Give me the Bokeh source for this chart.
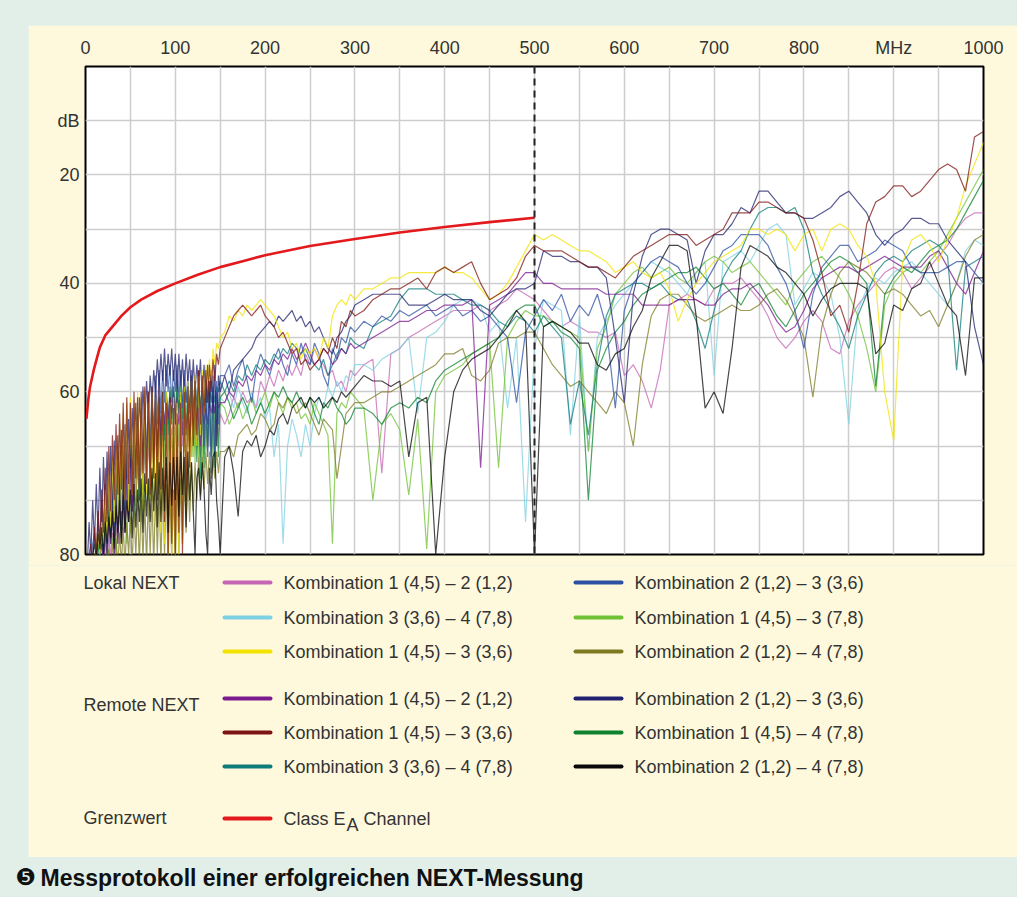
from bokeh.plotting import figure
from bokeh.layouts import column
from bokeh.models import FixedTicker, Span, Label, BoxAnnotation, Range1d, Plot
from bokeh.embed import file_html
from bokeh.resources import INLINE

# ---------------- data ----------------
FREQ_LO = list(range(2, 151, 2))        # MHz, dense sampling of the noisy low band
FREQ_MID = list(range(155, 301, 5))     # MHz
FREQ_HI = list(range(310, 1001, 10))    # MHz

X_TICKS = [0, 100, 200, 300, 400, 500, 600, 700, 800, 900, 1000]
X_LABELS = {900: "MHz"}
Y_TICKS = [10, 20, 40, 60, 90]
Y_LABELS = {10: "dB", 90: "80"}
LIMIT_MARK_MHZ = 500

LIMIT_F = [1, 3, 5, 9, 13, 16, 22, 31, 40, 50, 62, 80, 100, 125, 150, 175, 200, 250, 300, 350, 400, 450, 500]
LIMIT_DB = [65.0, 61.6, 59.1, 56.1, 53.6, 51.8, 49.6, 47.8, 46.0, 44.4, 43.0, 41.4, 40.0, 38.4, 37.0,
            35.9, 34.8, 33.1, 31.8, 30.6, 29.6, 28.7, 27.9]

# --- Lokal NEXT ---
L_K1_K2_LO = [92, 92, 92, 92, 92, 92, 92, 92, 92, 90,
              88, 92, 87, 90, 86, 90, 85, 88, 82, 88,
              80, 86, 78, 84, 77, 82, 76, 80, 74, 80,
              72, 78, 71, 76, 70, 75, 69, 74, 68, 72,
              67, 72, 66, 70, 65, 70, 64, 68, 65, 68,
              65, 70, 64, 70, 63, 68, 64, 69, 64, 70,
              65, 70, 66, 72, 65, 70, 66, 71, 65, 70,
              66, 72, 65, 68, 64]
L_K1_K2_MID = [66, 64, 61, 63, 60, 62, 61, 63, 58, 60,
               57, 59, 56, 58, 55, 57, 55, 57, 53, 55,
               52, 54, 55, 57, 56, 59, 58, 60, 56, 57]
L_K1_K2_HI = [55, 54, 75, 53, 52,
              50, 49, 48, 47, 46, 45, 45, 45, 44, 45,
              44, 43, 41, 42, 43, 45, 47, 48, 47, 48,
              49, 49, 50, 49, 57, 55, 58, 63, 56, 44,
              43, 42, 43, 44, 41, 40, 40, 39, 41, 43,
              46, 50, 52, 50, 47, 45, 47, 52, 53, 47,
              44, 42, 40, 38, 37, 38, 41, 39, 37, 35,
              33, 30, 28, 27, 27]
L_K3_K4_LO = [92, 92, 92, 92, 92, 90, 92, 90, 88, 90,
              86, 90, 84, 88, 82, 88, 80, 86, 78, 86,
              75, 84, 74, 82, 72, 80, 70, 79, 68, 78,
              67, 76, 66, 74, 65, 73, 64, 72, 64, 71,
              63, 70, 62, 68, 62, 67, 61, 66, 60, 65,
              60, 64, 60, 65, 59, 64, 60, 63, 59, 63,
              60, 64, 59, 62, 60, 63, 59, 64, 60, 62,
              60, 64, 60, 62, 61]
L_K3_K4_MID = [62, 60, 63, 59, 62, 64, 60, 63, 61, 65,
               63, 72, 66, 88, 70, 65, 68, 72, 66, 70,
               64, 61, 63, 59, 61, 58, 60, 57, 58, 55]
L_K3_K4_HI = [55, 56, 54, 53, 52,
              50, 64, 50, 49, 47, 44, 43, 43, 44, 49,
              47, 63, 50, 84, 52, 43, 44, 45, 68, 46,
              71, 50, 47, 44, 42, 40, 38, 36, 37, 38,
              40, 42, 38, 36, 57, 36, 35, 34, 36, 33,
              30, 29, 31, 44, 41, 38, 39, 42, 50, 66,
              45, 41, 39, 40, 38, 37, 36, 38, 40, 42,
              44, 40, 34, 32, 33]
L_K1_K3_36_LO = [92, 92, 92, 90, 92, 88, 86, 90, 84, 88,
                 78, 87, 75, 85, 72, 84, 70, 83, 66, 82,
                 64, 80, 62, 82, 61, 79, 62, 81, 60, 78,
                 61, 82, 60, 79, 62, 80, 60, 84, 61, 82,
                 62, 86, 61, 88, 60, 90, 62, 90, 61, 90,
                 62, 90, 60, 88, 59, 82, 58, 78, 58, 72,
                 57, 70, 57, 68, 56, 64, 55, 60, 54, 58,
                 52, 55, 51, 52, 50]
L_K1_K3_36_MID = [49, 46, 47, 45, 46, 44, 45, 44, 43, 44,
                  45, 46, 48, 50, 49, 52, 51, 54, 52, 53,
                  52, 54, 50, 52, 46, 44, 43, 44, 42, 43]
L_K1_K3_36_HI = [41, 41, 40, 39, 39,
                 38, 38, 38, 38, 37, 38, 38, 39, 41, 43,
                 42, 40, 37, 34, 31, 32, 31, 32, 33, 34,
                 34, 35, 36, 38, 37, 36, 38, 39, 38, 41,
                 47, 43, 40, 38, 36, 35, 34, 33, 30, 30,
                 31, 30, 31, 34, 31, 30, 34, 30, 29, 30,
                 33, 35, 40, 60, 69, 36, 32, 31, 33, 36,
                 32, 28, 22, 18, 14]
L_K2_K3_LO = [92, 92, 92, 88, 86, 90, 84, 88, 80, 90,
              77, 88, 76, 86, 74, 85, 73, 84, 71, 83,
              70, 82, 69, 80, 67, 78, 66, 76, 64, 75,
              63, 74, 62, 72, 60, 70, 59, 68, 57, 66,
              56, 64, 56, 62, 55, 60, 55, 62, 56, 60,
              55, 61, 56, 63, 56, 62, 57, 64, 56, 65,
              57, 66, 56, 68, 57, 70, 58, 72, 58, 75,
              57, 72, 58, 66, 57]
L_K2_K3_MID = [57, 55, 59, 56, 54, 58, 62, 56, 53, 55,
               57, 54, 52, 55, 57, 53, 55, 51, 54, 55,
               51, 53, 57, 59, 52, 54, 50, 51, 48, 49]
L_K2_K3_HI = [47, 48, 46, 47, 45,
              46, 45, 44, 46, 45, 44, 46, 45, 47, 46,
              48, 50, 62, 49, 46, 43, 45, 42, 47, 44,
              46, 42, 48, 63, 45, 40, 38, 36, 35, 36,
              37, 40, 42, 40, 37, 34, 33, 31, 31, 31,
              33, 37, 40, 45, 52, 42, 37, 35, 33, 33,
              36, 35, 34, 32, 33, 34, 37, 38, 38, 38,
              37, 36, 36, 38, 40]
L_K1_K3_78_LO = [92, 92, 92, 92, 92, 92, 92, 92, 92, 90,
                 92, 88, 90, 86, 88, 85, 90, 84, 88, 82,
                 86, 80, 88, 79, 86, 78, 84, 77, 82, 76,
                 84, 75, 82, 74, 80, 73, 80, 71, 78, 70,
                 79, 70, 77, 69, 76, 68, 75, 67, 74, 66,
                 73, 65, 72, 65, 71, 64, 70, 63, 72, 62,
                 73, 63, 72, 62, 74, 63, 71, 62, 70, 64,
                 72, 63, 70, 64, 62]
L_K1_K3_78_MID = [63, 66, 64, 62, 65, 63, 61, 64, 62, 60,
                  63, 60, 62, 64, 61, 63, 62, 65, 64, 66,
                  62, 64, 66, 68, 88, 64, 62, 63, 60, 61]
L_K1_K3_78_HI = [63, 80, 66, 64, 67,
                 79, 65, 89, 60, 57, 56, 55, 53, 52, 51,
                 74, 50, 47, 45, 46, 46, 47, 48, 49, 50,
                 71, 52, 48, 42, 40, 38, 37, 39, 38, 37,
                 39, 40, 38, 36, 35, 36, 38, 37, 36, 38,
                 40, 42, 44, 40, 38, 36, 35, 37, 39, 42,
                 46, 52, 60, 44, 40, 38, 37, 38, 36, 34,
                 31, 28, 25, 22, 19]
L_K2_K4_LO = [92, 92, 92, 92, 92, 92, 92, 92, 92, 92,
              90, 92, 89, 92, 88, 92, 87, 92, 86, 92,
              85, 92, 84, 90, 83, 92, 82, 90, 81, 92,
              80, 91, 80, 92, 79, 90, 79, 92, 78, 90,
              78, 92, 77, 90, 77, 92, 78, 91, 78, 92,
              76, 90, 76, 88, 75, 86, 74, 84, 73, 82,
              73, 80, 72, 79, 72, 78, 71, 77, 71, 76,
              72, 76, 71, 75, 71]
L_K2_K4_MID = [71, 70, 72, 68, 67, 66, 68, 67, 64, 65,
               67, 66, 62, 63, 61, 62, 64, 63, 62, 64,
               66, 68, 65, 66, 67, 76, 70, 64, 63, 62]
L_K2_K4_HI = [62, 61, 60, 60, 59,
              58, 57, 56, 55, 53, 53, 52, 57, 58, 56,
              51, 50, 50, 49, 49, 52, 55, 57, 59, 58,
              60, 62, 64, 60, 62, 70, 55, 46, 43, 42,
              42, 44, 46, 47, 46, 45, 44, 45, 45, 44,
              42, 41, 43, 46, 50, 61, 48, 42, 38, 36,
              37, 38, 40, 42, 41, 42, 44, 46, 45, 48,
              44, 40, 35, 32, 31]

# --- Remote NEXT ---
R_K1_K2_LO = [92, 92, 92, 92, 92, 92, 92, 90, 88, 92,
              86, 90, 84, 88, 82, 90, 80, 88, 78, 87,
              76, 86, 74, 84, 72, 82, 71, 80, 69, 78,
              68, 76, 66, 74, 65, 72, 64, 71, 63, 70,
              62, 68, 62, 66, 61, 65, 61, 64, 60, 66,
              61, 66, 62, 68, 61, 67, 63, 68, 62, 66,
              62, 69, 63, 70, 62, 66, 63, 66, 62, 64,
              61, 64, 60, 63, 62]
R_K1_K2_MID = [62, 60, 61, 58, 59, 57, 58, 56, 57, 55,
               56, 54, 55, 53, 54, 52, 54, 53, 51, 53,
               55, 54, 52, 53, 55, 54, 52, 53, 51, 52]
R_K1_K2_HI = [51, 50, 49, 48, 47,
              47, 46, 45, 45, 44, 44, 44, 43, 74, 44,
              43, 42, 40, 38, 38, 40, 40, 41, 41, 41,
              41, 41, 42, 42, 42, 42, 44, 44, 44, 44,
              43, 43, 43, 44, 44, 42, 41, 41, 40, 42,
              44, 47, 49, 48, 45, 41, 39, 38, 37, 37,
              38, 37, 36, 35, 36, 37, 37, 37, 35, 34,
              37, 40, 42, 38, 34]
R_K1_K3_36_LO = [92, 90, 88, 92, 85, 90, 82, 88, 78, 86,
                 74, 84, 70, 82, 68, 80, 66, 79, 64, 78,
                 62, 80, 61, 77, 62, 79, 60, 76, 61, 78,
                 60, 75, 59, 77, 60, 79, 59, 76, 60, 80,
                 59, 78, 60, 84, 62, 90, 61, 88, 63, 90,
                 64, 86, 62, 90, 60, 80, 59, 74, 57, 70,
                 58, 68, 56, 66, 57, 64, 56, 62, 55, 60,
                 54, 58, 53, 55, 52]
R_K1_K3_36_MID = [50, 48, 46, 45, 44, 45, 46, 45, 44, 46,
                  47, 48, 50, 49, 51, 53, 52, 55, 54, 56,
                  55, 54, 52, 53, 50, 52, 47, 48, 45, 46]
R_K1_K3_36_HI = [45, 43, 42, 41, 41,
                 40, 39, 41, 38, 37, 38, 37, 36, 40, 43,
                 42, 41, 39, 35, 33, 34, 34, 34, 35, 36,
                 37, 37, 38, 39, 37, 35, 34, 33, 32, 31,
                 31, 31, 33, 32, 31, 30, 27, 27, 27, 25,
                 25, 26, 27, 27, 28, 32, 38, 46, 44, 49,
                 40, 29, 25, 24, 22, 22, 24, 23, 21, 19,
                 18, 19, 23, 13, 12]
R_K3_K4_LO = [92, 92, 92, 92, 90, 92, 88, 90, 86, 90,
              83, 88, 80, 88, 77, 86, 75, 86, 73, 86,
              71, 84, 71, 83, 70, 82, 69, 81, 68, 80,
              67, 78, 66, 76, 65, 74, 64, 73, 63, 72,
              62, 70, 61, 68, 60, 66, 60, 65, 59, 64,
              60, 63, 60, 62, 59, 62, 59, 63, 58, 63,
              58, 62, 59, 63, 59, 63, 58, 62, 58, 62,
              59, 62, 59, 60, 58]
R_K3_K4_MID = [60, 58, 60, 57, 58, 55, 57, 55, 56, 54,
               55, 53, 54, 52, 53, 51, 52, 53, 52, 54,
               55, 56, 54, 57, 55, 53, 52, 53, 50, 51]
R_K3_K4_HI = [52, 48, 47, 46, 43,
              41, 41, 41, 42, 42, 42, 43, 44, 44, 45,
              47, 48, 46, 47, 49, 46, 48, 50, 66, 58,
              68, 55, 46, 42, 41, 40, 40, 41, 40, 42,
              43, 43, 47, 52, 45, 39, 36, 34, 30, 27,
              26, 26, 27, 26, 30, 38, 42, 45, 48, 52,
              46, 42, 38, 36, 35, 36, 34, 33, 32, 33,
              35, 56, 37, 36, 35]
R_K2_K3_LO = [92, 84, 90, 80, 88, 77, 86, 74, 85, 72,
              84, 71, 83, 70, 82, 69, 81, 68, 80, 67,
              79, 66, 76, 65, 74, 63, 72, 62, 70, 61,
              68, 59, 66, 58, 64, 57, 62, 56, 60, 54,
              59, 53, 58, 52, 59, 53, 57, 52, 58, 53,
              60, 53, 59, 54, 60, 53, 58, 54, 61, 54,
              60, 55, 59, 54, 61, 55, 62, 55, 63, 56,
              64, 55, 70, 57, 60]
R_K2_K3_MID = [57, 60, 56, 55, 54, 53, 52, 50, 49, 48,
               47, 48, 46, 47, 46, 45, 47, 46, 48, 47,
               49, 48, 50, 52, 53, 50, 49, 47, 46, 44]
R_K2_K3_HI = [43, 42, 42, 42, 42,
              44, 44, 44, 43, 42, 43, 43, 43, 45, 46,
              44, 42, 41, 41, 40, 34, 35, 35, 36, 36,
              37, 37, 39, 50, 62, 42, 35, 31, 30, 30,
              31, 32, 40, 34, 31, 31, 29, 26, 27, 23,
              23, 25, 27, 27, 28, 28, 27, 26, 24, 23,
              25, 27, 31, 33, 31, 30, 28, 28, 29, 29,
              32, 34, 36, 48, 55]
R_K1_K4_LO = [92, 92, 92, 92, 92, 90, 88, 92, 87, 90,
              84, 90, 82, 88, 80, 88, 78, 87, 76, 86,
              74, 85, 72, 84, 70, 82, 69, 80, 68, 80,
              66, 78, 65, 77, 64, 76, 63, 74, 62, 72,
              61, 70, 60, 69, 60, 68, 59, 66, 59, 66,
              58, 64, 59, 65, 59, 68, 60, 70, 60, 72,
              60, 73, 61, 76, 60, 74, 61, 70, 60, 72,
              61, 74, 60, 72, 61]
R_K1_K4_MID = [60, 62, 65, 63, 61, 63, 66, 64, 62, 64,
               62, 60, 61, 59, 61, 62, 60, 62, 63, 61,
               64, 66, 62, 63, 61, 63, 64, 66, 65, 63]
R_K1_K4_HI = [63, 64, 66, 63, 62,
              63, 61, 62, 58, 56, 55, 54, 53, 52, 51,
              50, 47, 45, 44, 44, 48, 47, 49, 50, 52,
              80, 56, 52, 49, 47, 44, 42, 41, 40, 39,
              38, 38, 37, 39, 41, 40, 42, 44, 41, 40,
              43, 46, 48, 45, 42, 40, 38, 36, 35, 36,
              38, 40, 59, 42, 39, 37, 38, 36, 34, 33,
              32, 30, 27, 24, 21]
R_K2_K4_LO = [92, 92, 92, 90, 88, 91, 86, 89, 85, 90,
              84, 88, 83, 87, 82, 89, 81, 86, 80, 88,
              79, 86, 80, 84, 78, 87, 77, 85, 78, 84,
              76, 86, 75, 83, 76, 84, 74, 82, 75, 85,
              73, 84, 74, 82, 72, 86, 73, 81, 72, 80,
              72, 83, 71, 79, 72, 85, 71, 80, 73, 82,
              90, 76, 74, 80, 73, 78, 86, 90, 74, 79,
              72, 71, 80, 84, 90]
R_K2_K4_MID = [72, 70, 75, 83, 71, 69, 70, 68, 72, 70,
               67, 68, 65, 64, 66, 63, 62, 61, 63, 61,
               62, 61, 63, 62, 61, 62, 60, 61, 60, 59]
R_K2_K4_HI = [57, 58, 58, 59, 58,
              72, 62, 61, 90, 72, 60, 56, 54, 53, 52,
              50, 48, 45, 47, 90, 48, 47, 48, 49, 51,
              51, 55, 56, 53, 52, 48, 45, 39, 36, 33,
              33, 34, 46, 63, 60, 64, 52, 37, 33, 34,
              35, 37, 38, 40, 42, 46, 43, 41, 40, 40,
              40, 41, 53, 51, 44, 45, 41, 40, 36, 40,
              44, 46, 57, 39, 39]

LOKAL_NAMES = ["Kombination 1 (4,5) – 2 (1,2)", "Kombination 3 (3,6) – 4 (7,8)",
               "Kombination 1 (4,5) – 3 (3,6)", "Kombination 2 (1,2) – 3 (3,6)",
               "Kombination 1 (4,5) – 3 (7,8)", "Kombination 2 (1,2) – 4 (7,8)"]
REMOTE_NAMES = ["Kombination 1 (4,5) – 2 (1,2)", "Kombination 1 (4,5) – 3 (3,6)",
                "Kombination 3 (3,6) – 4 (7,8)", "Kombination 2 (1,2) – 3 (3,6)",
                "Kombination 1 (4,5) – 4 (7,8)", "Kombination 2 (1,2) – 4 (7,8)"]
LOKAL_COLORS = ["#c466b4", "#7fd0e2", "#f2e400", "#2c50a2", "#6fc233", "#7c7b22"]
REMOTE_COLORS = ["#7a1a8c", "#7c1512", "#0f7b7b", "#20216f", "#0f8232", "#0a0a0a"]
LOKAL_DATA = [(L_K1_K2_LO, L_K1_K2_MID, L_K1_K2_HI), (L_K3_K4_LO, L_K3_K4_MID, L_K3_K4_HI),
              (L_K1_K3_36_LO, L_K1_K3_36_MID, L_K1_K3_36_HI), (L_K2_K3_LO, L_K2_K3_MID, L_K2_K3_HI),
              (L_K1_K3_78_LO, L_K1_K3_78_MID, L_K1_K3_78_HI), (L_K2_K4_LO, L_K2_K4_MID, L_K2_K4_HI)]
REMOTE_DATA = [(R_K1_K2_LO, R_K1_K2_MID, R_K1_K2_HI), (R_K1_K3_36_LO, R_K1_K3_36_MID, R_K1_K3_36_HI),
               (R_K3_K4_LO, R_K3_K4_MID, R_K3_K4_HI), (R_K2_K3_LO, R_K2_K3_MID, R_K2_K3_HI),
               (R_K1_K4_LO, R_K1_K4_MID, R_K1_K4_HI), (R_K2_K4_LO, R_K2_K4_MID, R_K2_K4_HI)]
LIMIT_NAME = "Class E"
LIMIT_COLOR = "#e3191c"
CAPTION_MARK = "❺"
CAPTION = "Messprotokoll einer erfolgreichen NEXT-Messung"

# ---------------- styling / geometry (picture pixels) ----------------
FONT = "Liberation Sans"
TXT = "#333333"
YELLOW = "#fef9dc"
MINT = "#e2efe9"
W, H = 1017, 897
PX0, PY0 = 28, 25          # top-left of the yellow panel
SPLIT = 565                # chart figure / legend figure boundary
PANEL_B = 857              # bottom of the yellow panel
WP = W - PX0

HAS_ALIGN = "frame_align" in Plot.properties()

# ---------------- chart figure ----------------
p = figure(width=WP, height=SPLIT - PY0, x_range=Range1d(0, 1000), y_range=Range1d(90, 0),
           x_axis_location="above", output_backend="svg", toolbar_location=None,
           min_border_left=85 - PX0, min_border_right=W - 983,
           min_border_top=66 - PY0, min_border_bottom=SPLIT - 554)
p.margin = (PY0, 0, 0, PX0)
p.border_fill_color = YELLOW
p.background_fill_color = "white"
p.outline_line_color = "black"
p.outline_line_width = 2

for ax in (p.xaxis[0], p.yaxis[0]):
    ax.axis_line_color = None
    ax.major_tick_line_color = None
    ax.minor_tick_line_color = None
    ax.major_label_text_font = FONT
    ax.major_label_text_font_size = "18px"
    ax.major_label_text_color = TXT
p.xaxis.ticker = FixedTicker(ticks=X_TICKS)
p.xaxis.major_label_overrides = X_LABELS
p.xaxis.major_label_standoff = 3
p.yaxis.ticker = FixedTicker(ticks=Y_TICKS)
p.yaxis.major_label_overrides = Y_LABELS
p.yaxis.major_label_standoff = 0

p.xgrid.ticker = FixedTicker(ticks=list(range(0, 1001, 50)))
p.ygrid.ticker = FixedTicker(ticks=list(range(0, 91, 10)))
for g in (p.xgrid[0], p.ygrid[0]):
    g.grid_line_color = "#cdcdcd"
    g.grid_line_width = 1.5

FREQ = FREQ_LO + FREQ_MID + FREQ_HI
order = [(LOKAL_DATA[0], LOKAL_COLORS[0]), (LOKAL_DATA[1], LOKAL_COLORS[1]),
         (LOKAL_DATA[4], LOKAL_COLORS[4]), (LOKAL_DATA[5], LOKAL_COLORS[5]),
         (REMOTE_DATA[2], REMOTE_COLORS[2]), (REMOTE_DATA[4], REMOTE_COLORS[4]),
         (REMOTE_DATA[0], REMOTE_COLORS[0]), (LOKAL_DATA[3], LOKAL_COLORS[3]),
         (REMOTE_DATA[3], REMOTE_COLORS[3]), (LOKAL_DATA[2], LOKAL_COLORS[2]),
         (REMOTE_DATA[1], REMOTE_COLORS[1]), (REMOTE_DATA[5], REMOTE_COLORS[5])]
for (lo, mid, hi), c in order:
    ys = list(lo) + list(mid) + list(hi)
    n = min(len(FREQ), len(ys))
    p.line(FREQ[:n], ys[:n], line_color=c, line_width=1.2, line_alpha=0.75)

p.line(LIMIT_F, LIMIT_DB, line_color=LIMIT_COLOR, line_width=2.6)
p.add_layout(Span(location=LIMIT_MARK_MHZ, dimension="height", line_color="#222222",
                  line_width=2, line_dash="7 5"))


def plain_fig(w, h, bg):
    f = figure(frame_width=w, frame_height=h, x_range=Range1d(0, w), y_range=Range1d(h, 0),
               x_axis_type=None, y_axis_type=None, output_backend="svg",
               toolbar_location=None, min_border=0)
    if HAS_ALIGN:
        f.frame_align = False
    f.background_fill_color = bg
    f.border_fill_color = bg
    f.outline_line_color = None
    f.xgrid.visible = False
    f.ygrid.visible = False
    return f


def text(fig, x, y, s, size="18px", style="normal", color=TXT, font=FONT):
    fig.add_layout(Label(x=x, y=y, text=s, text_font=font, text_font_size=size,
                         text_font_style=style, text_color=color,
                         text_baseline="middle", text_align="left"))


# ---------------- legend figure (pixel coordinates, y downwards) ----------------
LH = PANEL_B - SPLIT
lg = plain_fig(WP, LH, YELLOW)
lg.margin = (0, 0, 0, PX0)


def swatch(x, y, color):
    lg.add_layout(BoxAnnotation(left=x - PX0, right=x - PX0 + 50,
                                top=y - SPLIT - 2, bottom=y - SPLIT + 2,
                                fill_color=color, fill_alpha=1, line_color=None,
                                border_radius=2))


def ltext(x, y, s):
    text(lg, x - PX0, y - SPLIT, s)


ROWS = [582, 617, 651]
ROWS_R = [698, 732, 766]
ltext(83, 582, "Lokal NEXT")
ltext(83, 704, "Remote NEXT")
ltext(83, 817, "Grenzwert")
for i in range(6):
    col, row = i // 3, i % 3
    x0 = 222 if col == 0 else 573
    swatch(x0, ROWS[row], LOKAL_COLORS[i])
    ltext(x0 + 61, ROWS[row], LOKAL_NAMES[i])
    swatch(x0, ROWS_R[row], REMOTE_COLORS[i])
    ltext(x0 + 61, ROWS_R[row], REMOTE_NAMES[i])
swatch(222, 818, LIMIT_COLOR)
ltext(283, 818, LIMIT_NAME)
ltext(346, 824, "A")
ltext(363, 818, "Channel")

# ---------------- caption figure ----------------
CH = H - PANEL_B
cap = plain_fig(W, CH, MINT)
text(cap, 15, 876 - PANEL_B, CAPTION_MARK, size="23px", color="#111111", font="DejaVu Sans")
text(cap, 40, 877 - PANEL_B, CAPTION, size="23px", style="bold", color="#111111")

layout = column(p, lg, cap, width=W, height=H, spacing=0,
                styles={"background-color": MINT})
open("out.html", "w").write(file_html(layout, INLINE))
